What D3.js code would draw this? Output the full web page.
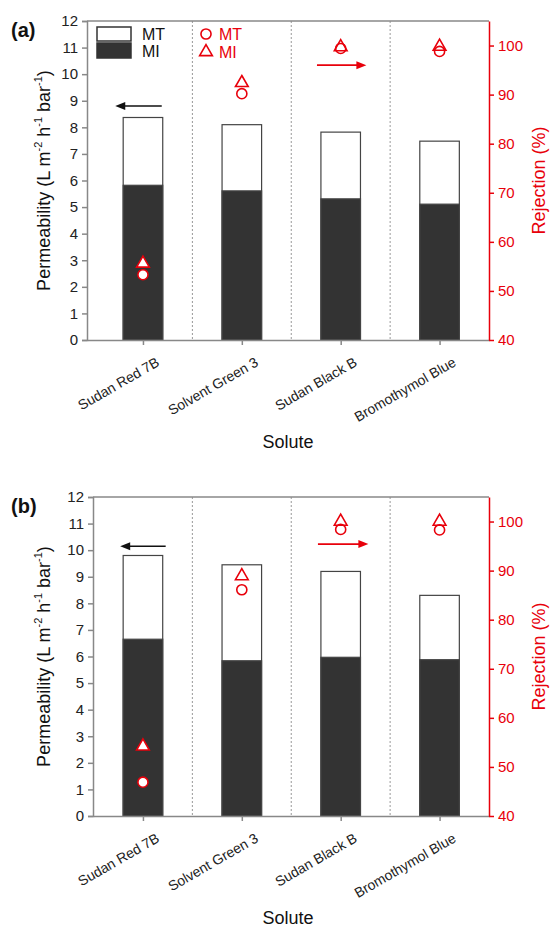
<!DOCTYPE html>
<html>
<head>
<meta charset="utf-8">
<script src="https://cdn.jsdelivr.net/npm/d3@7"></script>
<style>
  body { margin: 0; background: #fff; }
  text { font-family: "Liberation Sans", Arial, sans-serif; }
</style>
</head>
<body>
<div id="chart"></div>
<script>
// solutes and values
var solutes = ["Sudan Red 7B", "Solvent Green 3", "Sudan Black B", "Bromothymol Blue"];

// panel (a)
var mtA = [8.37, 8.1, 7.82, 7.48];
var miA = [5.82, 5.61, 5.31, 5.11];
var rejMtA = [53.3, 90.2, 99.4, 98.8];
var rejMiA = [55.6, 92.4, 99.7, 99.8];

// panel (b)
var mtB = [9.8, 9.45, 9.2, 8.3];
var miB = [6.65, 5.84, 5.97, 5.88];
var rejMtB = [46.9, 86.1, 98.4, 98.3];
var rejMiB = [54.2, 88.9, 100, 100];

var permTicks = [0, 1, 2, 3, 4, 5, 6, 7, 8, 9, 10, 11, 12];
var rejTicks = [40, 50, 60, 70, 80, 90, 100];

var red = "#e8000b";
var svg = d3.select("#chart").append("svg")
    .attr("width", 551)
    .attr("height", 927);

function drawPanel(cfg) {
  var width = 489 - cfg.left,
      height = 319;

  var g = svg.append("g")
    .attr("transform", "translate(" + cfg.left + "," + cfg.top + ")");

  // x is linear over the category index
  var x = d3.scaleLinear()
    .domain([cfg.xmin, 3.5])
    .range([0, width]);
  var y = d3.scaleLinear()
    .domain([0, 12])
    .range([height, 0]);
  var yR = d3.scaleLinear()
    .domain([40, 105])
    .range([height, 0]);

  // dotted separators
  g.selectAll("sep")
    .data([0.5, 1.5, 2.5])
    .enter()
    .append("line")
    .attr("x1", function(d) { return x(d); })
    .attr("x2", function(d) { return x(d); })
    .attr("y1", 0)
    .attr("y2", height)
    .attr("stroke", "#999")
    .attr("stroke-dasharray", "2,2");

  // MT bars (total)
  g.selectAll("mtBar")
    .data(cfg.mt)
    .enter()
    .append("rect")
    .attr("x", function(d, i) { return x(i - 0.2); })
    .attr("y", function(d) { return y(d); })
    .attr("width", x(0.4) - x(0))
    .attr("height", function(d) { return height - y(d); })
    .attr("fill", "#fff")
    .attr("stroke", "#444")
    .attr("stroke-width", 1.2);

  // MI bars
  g.selectAll("miBar")
    .data(cfg.mi)
    .enter()
    .append("rect")
    .attr("x", function(d, i) { return x(i - 0.2); })
    .attr("y", function(d) { return y(d); })
    .attr("width", x(0.4) - x(0))
    .attr("height", function(d) { return height - y(d); })
    .attr("fill", "#333")
    .attr("stroke", "#444")
    .attr("stroke-width", 1.2);

  // left axis
  var yAxis = g.append("g")
    .call(d3.axisLeft(y).tickValues(permTicks).tickSize(5).tickPadding(4));
  yAxis.selectAll("path, line").attr("stroke", "#888").attr("stroke-width", 1.5);
  yAxis.selectAll("text").attr("font-size", 15).attr("fill", "#222")
    .style("font-family", "Liberation Sans, Arial, sans-serif");

  // bottom axis
  var xAxis = g.append("g")
    .attr("transform", "translate(0," + height + ")")
    .call(d3.axisBottom(x).tickValues([0, 1, 2, 3]).tickSize(5).tickSizeOuter(0)
      .tickFormat(function(d) { return solutes[d]; }));
  xAxis.selectAll("path, line").attr("stroke", "#888").attr("stroke-width", 1.5);
  xAxis.selectAll("text")
    .attr("font-size", 14)
    .attr("fill", "#222")
    .attr("y", 0)
    .attr("dy", 0)
    .style("text-anchor", "end")
    .style("font-family", "Liberation Sans, Arial, sans-serif")
    .attr("transform", "translate(17,25) rotate(-30)");

  // top frame line
  g.append("line")
    .attr("x1", 0).attr("x2", width)
    .attr("y1", 0).attr("y2", 0)
    .attr("stroke", "#888")
    .attr("stroke-width", 1.5);

  // right axis
  var rAxis = g.append("g")
    .attr("transform", "translate(" + width + ",0)")
    .call(d3.axisRight(yR).tickValues(rejTicks).tickSize(5).tickSizeOuter(0).tickPadding(4));
  rAxis.selectAll("path, line").attr("stroke", red).attr("stroke-width", 1.5);
  rAxis.selectAll("text").attr("font-size", 15).attr("fill", red)
    .style("font-family", "Liberation Sans, Arial, sans-serif");

  // rejection markers
  g.selectAll("mtPt")
    .data(cfg.rejMt)
    .enter()
    .append("path")
    .attr("d", d3.symbol().type(d3.symbolCircle).size(80))
    .attr("transform", function(d, i) { return "translate(" + x(i) + "," + yR(d) + ")"; })
    .attr("fill", "#fff")
    .attr("stroke", red)
    .attr("stroke-width", 1.6);
  g.selectAll("miPt")
    .data(cfg.rejMi)
    .enter()
    .append("path")
    .attr("d", d3.symbol().type(d3.symbolTriangle).size(70))
    .attr("transform", function(d, i) { return "translate(" + x(i) + "," + yR(d) + ")"; })
    .attr("fill", function(d, i) { return i == 0 ? "#fff" : "none"; })
    .attr("stroke", red)
    .attr("stroke-width", 1.6);

  // arrows
  var ax = cfg.arrowL;
  g.append("line")
    .attr("x1", x(ax[1])).attr("x2", x(ax[0]) + 6)
    .attr("y1", y(ax[2])).attr("y2", y(ax[2]))
    .attr("stroke", "#111").attr("stroke-width", 1.6);
  g.append("path")
    .attr("d", "M" + x(ax[0]) + "," + y(ax[2]) + "l10,-4l0,8z")
    .attr("fill", "#111");
  var ar = cfg.arrowR;
  g.append("line")
    .attr("x1", x(ar[0])).attr("x2", x(ar[1]) - 6)
    .attr("y1", yR(ar[2])).attr("y2", yR(ar[2]))
    .attr("stroke", red).attr("stroke-width", 1.6);
  g.append("path")
    .attr("d", "M" + x(ar[1]) + "," + yR(ar[2]) + "l-10,-4l0,8z")
    .attr("fill", red);

  // axis titles
  var yt = g.append("text")
    .attr("transform", "translate(" + (45 - cfg.left) + "," + (height / 2) + ") rotate(-90)")
    .attr("text-anchor", "middle")
    .attr("dominant-baseline", "middle")
    .attr("font-size", 18)
    .attr("fill", "#111");
  yt.append("tspan").text("Permeability (L m");
  yt.append("tspan").attr("dy", -6).attr("font-size", 11).text("-2");
  yt.append("tspan").attr("dy", 6).text(" h");
  yt.append("tspan").attr("dy", -6).attr("font-size", 11).text("-1");
  yt.append("tspan").attr("dy", 6).text(" bar");
  yt.append("tspan").attr("dy", -6).attr("font-size", 11).text("-1");
  yt.append("tspan").attr("dy", 6).text(")");

  g.append("text")
    .attr("transform", "translate(" + (540 - cfg.left) + "," + (height / 2) + ") rotate(-90)")
    .attr("text-anchor", "middle")
    .attr("dominant-baseline", "middle")
    .attr("font-size", 18)
    .attr("fill", red)
    .text("Rejection (%)");

  g.append("text")
    .attr("x", 288 - cfg.left)
    .attr("y", height + 108)
    .attr("text-anchor", "middle")
    .attr("font-size", 18)
    .attr("fill", "#111")
    .text("Solute");

  // panel label
  svg.append("text")
    .attr("x", 11)
    .attr("y", cfg.top + 16)
    .attr("font-size", 20)
    .attr("font-weight", "bold")
    .attr("fill", "#111")
    .text(cfg.label);

  return g;
}

var gA = drawPanel({
  label: "(a)", left: 87, top: 21, xmin: -0.566,
  mt: mtA, mi: miA, rejMt: rejMtA, rejMi: rejMiA,
  arrowL: [-0.28, 0.19, 8.8], arrowR: [1.76, 2.26, 96]
});

drawPanel({
  label: "(b)", left: 93, top: 497, xmin: -0.505,
  mt: mtB, mi: miB, rejMt: rejMtB, rejMi: rejMiB,
  arrowL: [-0.23, 0.23, 10.15], arrowR: [1.77, 2.28, 95.4]
});

// legend in panel (a)
var leg = gA.append("g").attr("transform", "translate(10,6)");
leg.append("rect").attr("x", 0).attr("y", 0).attr("width", 34).attr("height", 14)
  .attr("fill", "#fff").attr("stroke", "#333").attr("stroke-width", 1.5);
leg.append("rect").attr("x", 0).attr("y", 16).attr("width", 34).attr("height", 15)
  .attr("fill", "#333").attr("stroke", "#333").attr("stroke-width", 1.5);
leg.append("text").attr("x", 45).attr("y", 13).attr("font-size", 16).attr("fill", "#111").text("MT");
leg.append("text").attr("x", 45).attr("y", 30).attr("font-size", 16).attr("fill", "#111").text("MI");

var legR = gA.append("g").attr("transform", "translate(119,6)");
legR.append("path").attr("d", d3.symbol().type(d3.symbolCircle).size(80))
  .attr("transform", "translate(0,7)").attr("fill", "none").attr("stroke", red).attr("stroke-width", 1.6);
legR.append("path").attr("d", d3.symbol().type(d3.symbolTriangle).size(70))
  .attr("transform", "translate(0,25)").attr("fill", "none").attr("stroke", red).attr("stroke-width", 1.6);
legR.append("text").attr("x", 13).attr("y", 13).attr("font-size", 16).attr("fill", red).text("MT");
legR.append("text").attr("x", 13).attr("y", 31).attr("font-size", 16).attr("fill", red).text("MI");
</script>
</body>
</html>
